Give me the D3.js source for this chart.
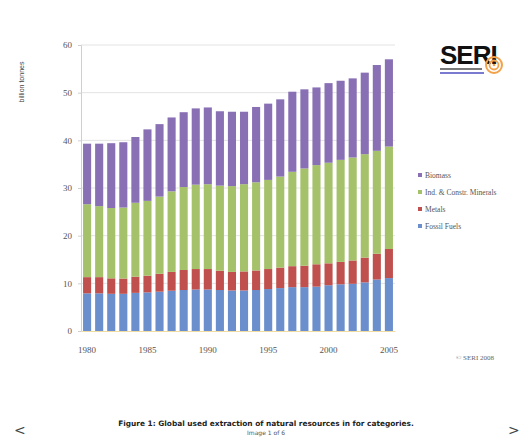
<!DOCTYPE html>
<html>
<head>
<meta charset="utf-8">
<script src="https://cdn.jsdelivr.net/npm/d3@7"></script>
<style>
  body { margin: 0; background: #fff; }
  svg { display: block; }
</style>
</head>
<body>
<div id="chart"></div>
<script>
// years on the x axis
var years = d3.range(1980, 2006);
// billion tonnes
var fossilFuels = [7.9, 7.9, 7.8, 7.8, 8.0, 8.1, 8.25, 8.45, 8.6, 8.7, 8.7, 8.6, 8.5,
                   8.5, 8.6, 8.8, 9.0, 9.2, 9.2, 9.3, 9.6, 9.8, 9.9, 10.2, 10.8, 11.1];
var metals = [3.4, 3.4, 3.25, 3.2, 3.4, 3.5, 3.75, 3.95, 4.2, 4.3, 4.3, 4.05, 3.9,
              4.0, 4.1, 4.2, 4.3, 4.4, 4.5, 4.7, 4.6, 4.7, 4.9, 5.2, 5.4, 6.1];
var minerals = [15.3, 14.9, 14.75, 14.9, 15.5, 15.7, 16.2, 16.9, 17.4, 17.7, 17.8, 17.85, 18.0,
                18.3, 18.5, 18.7, 19.1, 19.8, 20.4, 20.8, 21.1, 21.4, 21.6, 21.7, 21.6, 21.5];
var biomass = [12.7, 13.1, 13.6, 13.7, 13.8, 15.0, 15.2, 15.5, 15.7, 16.0, 16.1, 15.6, 15.6,
               15.2, 15.8, 16.0, 16.2, 16.8, 16.6, 16.3, 16.7, 16.6, 16.6, 17.1, 18.0, 18.3];
var seriesNames = ["Fossil Fuels", "Metals", "Ind. & Constr. Minerals", "Biomass"];
var seriesColors = ["#6a8fcc", "#c0504d", "#a5c26b", "#8970b4"];
var yTicks = [0, 10, 20, 30, 40, 50, 60];
var xTickYears = [1980, 1985, 1990, 1995, 2000, 2005];

var width = 525, height = 439;
var svg = d3.select("#chart").append("svg")
    .attr("width", width)
    .attr("height", height);

var rows = years.map(function (y, i) {
    return { year: y, "Fossil Fuels": fossilFuels[i], "Metals": metals[i],
             "Ind. & Constr. Minerals": minerals[i], "Biomass": biomass[i] };
});
var stacked = d3.stack().keys(seriesNames)(rows);

var x = d3.scaleBand().domain(years).range([81, 395]).paddingInner(0.33).paddingOuter(0.17);
var y = d3.scaleLinear().domain([0, 60]).range([331, 45]);

// gridlines
svg.append("g").selectAll("line")
    .data(yTicks.filter(function (d) { return d > 0; }))
    .enter().append("line")
    .attr("x1", 81).attr("x2", 395)
    .attr("y1", function (d) { return y(d); })
    .attr("y2", function (d) { return y(d); })
    .attr("stroke", "#e3e3e3").attr("stroke-width", 1);

// bars
svg.append("g").selectAll("g")
    .data(stacked)
    .enter().append("g")
    .attr("fill", function (d, i) { return seriesColors[i]; })
    .selectAll("rect")
    .data(function (d) { return d; })
    .enter().append("rect")
    .attr("x", function (d) { return x(d.data.year); })
    .attr("y", function (d) { return y(d[1]); })
    .attr("width", x.bandwidth())
    .attr("height", function (d) { return y(d[0]) - y(d[1]); });

// y axis
var yAxis = svg.append("g")
    .attr("transform", "translate(81,0)")
    .call(d3.axisLeft(y).tickValues(yTicks).tickSize(3).tickPadding(6));
yAxis.select(".domain").attr("stroke", "#cfcfcf");
yAxis.selectAll(".tick line").attr("stroke", "#cfcfcf");
yAxis.selectAll("text").attr("font-family", "Liberation Serif").attr("font-size", 9).attr("fill", "#555");

// x axis
var xAxis = svg.append("g")
    .attr("transform", "translate(0,331)")
    .call(d3.axisBottom(x).tickValues(xTickYears).tickSize(0).tickPadding(16));
xAxis.select(".domain").attr("stroke", "#f0dca0");
xAxis.selectAll("text").attr("font-family", "Liberation Serif").attr("font-size", 9).attr("fill", "#555");

// axis title
svg.append("text")
    .attr("transform", "translate(24,82) rotate(-90)")
    .attr("text-anchor", "middle")
    .attr("font-family", "Liberation Sans").attr("font-size", 7).attr("fill", "#444")
    .text("billion tonnes");

// legend (reverse order, as in the picture)
var legendOrder = [3, 2, 1, 0];
var legend = svg.append("g").selectAll("g")
    .data(legendOrder)
    .enter().append("g")
    .attr("transform", function (d, i) { return "translate(418," + (176 + i * 17) + ")"; });
legend.append("rect")
    .attr("x", 0).attr("y", -3).attr("width", 4).attr("height", 4)
    .attr("fill", function (d) { return seriesColors[d]; });
legend.append("text")
    .attr("x", 7).attr("y", 1.5)
    .attr("font-family", "Liberation Serif").attr("font-size", 7.5).attr("fill", "#555")
    .text(function (d) { return seriesNames[d]; });

// SERI logo
var logo = svg.append("g").attr("transform", "translate(440,40)");
logo.append("text")
    .attr("x", 0).attr("y", 24)
    .attr("font-family", "Liberation Sans").attr("font-weight", "bold")
    .attr("font-size", 26).attr("fill", "#111").attr("letter-spacing", -1)
    .text("SERI");
logo.append("rect").attr("x", 0).attr("y", 28).attr("width", 42).attr("height", 2).attr("fill", "#7a7a7a");
logo.append("rect").attr("x", 0).attr("y", 32).attr("width", 44).attr("height", 2).attr("fill", "#7a7ad0");
logo.append("circle").attr("cx", 54).attr("cy", 25).attr("r", 8).attr("fill", "none").attr("stroke", "#f2a24a").attr("stroke-width", 2);
logo.append("circle").attr("cx", 54).attr("cy", 25).attr("r", 4.5).attr("fill", "none").attr("stroke", "#f2a24a").attr("stroke-width", 1.8);
logo.append("circle").attr("cx", 54).attr("cy", 25).attr("r", 1.3).attr("fill", "#f2a24a");

// copyright
svg.append("text")
    .attr("x", 475).attr("y", 360).attr("text-anchor", "middle")
    .attr("font-family", "Liberation Serif").attr("font-size", 7).attr("fill", "#666")
    .text("© SERI 2008");

// caption
svg.append("text")
    .attr("x", 266).attr("y", 426).attr("text-anchor", "middle")
    .attr("font-family", "DejaVu Sans").attr("font-weight", "bold").attr("font-size", 7.4).attr("fill", "#222")
    .text("Figure 1: Global used extraction of natural resources in for categories.");
svg.append("text")
    .attr("x", 266).attr("y", 435).attr("text-anchor", "middle")
    .attr("font-family", "DejaVu Sans").attr("font-size", 6).attr("fill", "#555")
    .text("Image 1 of 6");

// navigation arrows
svg.append("text").attr("x", 14).attr("y", 435)
    .attr("font-family", "DejaVu Sans").attr("font-size", 14).attr("fill", "#444").text("<");
svg.append("text").attr("x", 508).attr("y", 435)
    .attr("font-family", "DejaVu Sans").attr("font-size", 14).attr("fill", "#444").text(">");
</script>
</body>
</html>
